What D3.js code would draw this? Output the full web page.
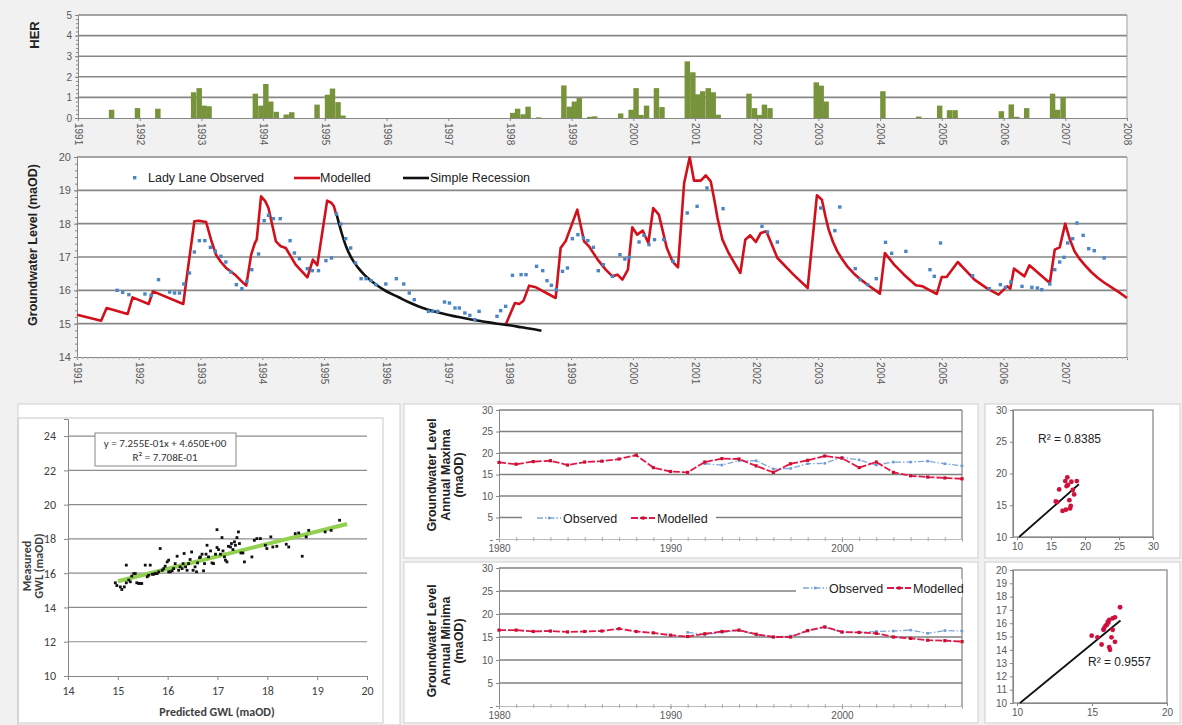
<!DOCTYPE html>
<html><head><meta charset="utf-8">
<script src="https://cdn.jsdelivr.net/npm/d3@7"></script>
<style>
body{margin:0;background:#f1f1f1;}
svg{display:block;font-family:"Liberation Sans",Arial,sans-serif;}
</style>
</head><body>
<svg id="c" width="1182" height="725"></svg>
<script>
// ---------------- DATA ----------------
const yearTicks = [1991,1992,1993,1994,1995,1996,1997,1998,1999,2000,2001,2002,2003,2004,2005,2006,2007,2008];
const herTicks = [0,1,2,3,4,5];
const herYears = [1991.50,1991.92,1992.25,1992.83,1992.92,1993.00,1993.08,1993.83,1993.92,1994.00,1994.08,1994.17,1994.33,1994.42,1994.83,1995.00,1995.08,1995.17,1995.25,
  1998.00,1998.08,1998.17,1998.25,1998.42,1998.83,1998.92,1999.00,1999.08,1999.25,1999.33,1999.75,1999.92,2000.00,2000.08,2000.17,2000.33,2000.42,
  2000.83,2000.92,2001.00,2001.08,2001.17,2001.25,2001.33,2001.83,2001.92,2002.00,2002.08,2002.17,2002.92,2003.00,2003.08,2004.00,2004.58,
  2004.92,2005.08,2005.17,2005.92,2006.08,2006.17,2006.33,2006.75,2006.83,2006.92];
const herValues = [0.40,0.48,0.45,1.25,1.45,0.60,0.57,1.18,0.60,1.65,0.80,0.30,0.17,0.28,0.65,1.13,1.43,0.77,0.12,
  0.25,0.45,0.18,0.55,0.03,1.58,0.55,0.80,0.97,0.06,0.08,0.22,0.40,1.45,0.15,0.60,1.45,0.53,
  2.75,2.22,1.15,1.30,1.45,1.25,0.16,1.18,0.48,0.15,0.65,0.48,1.73,1.57,0.80,1.30,0.07,
  0.60,0.38,0.38,0.33,0.66,0.06,0.48,1.18,0.40,1.02];

const gwlTicks = [14,15,16,17,18,19,20];
const modelYears = [1991.00,1991.39,1991.48,1991.82,1991.90,1992.16,1992.23,1992.72,1992.79,1992.90,1992.97,1993.09,1993.17,1993.25,1993.33,1993.41,1993.50,1993.57,1993.65,1993.74,
  1993.82,1993.88,1993.91,1993.98,1994.05,1994.10,1994.22,1994.30,1994.38,1994.54,1994.73,1994.82,1994.89,1995.05,1995.12,1995.16,1995.20,
  1996.50,
  1997.94,1998.09,1998.16,1998.23,1998.32,1998.43,1998.75,1998.83,1998.91,1999.10,1999.21,1999.29,1999.43,1999.56,1999.67,1999.75,1999.83,1999.92,
  1999.99,2000.07,2000.16,2000.25,2000.33,2000.42,2000.55,2000.64,2000.73,2000.83,2000.92,2000.99,2001.10,2001.18,2001.26,2001.32,2001.37,2001.45,2001.55,2001.65,2001.74,
  2001.82,2001.90,2001.99,2002.07,2002.16,2002.34,2002.60,2002.83,2002.98,2003.06,2003.12,2003.17,2003.24,2003.31,2003.39,2003.47,2003.58,2003.69,2003.85,2004.00,
  2004.08,2004.23,2004.39,2004.58,2004.69,2004.92,2005.00,2005.08,2005.26,2005.53,2005.74,2005.92,2006.06,2006.11,2006.17,2006.34,2006.42,2006.75,
  2006.83,2006.91,2007.00,2007.07,2007.15,2007.23,2007.31,2007.42,2007.53,2007.64,2007.75,2007.88,2008.00];
const modelValues = [15.27,15.09,15.47,15.29,15.79,15.59,15.97,15.59,16.57,18.07,18.09,18.05,17.52,17.07,16.85,16.68,16.55,16.45,16.30,16.14,
  17.07,17.42,17.52,18.82,18.67,18.47,17.47,17.32,17.27,16.77,16.39,16.92,16.75,18.69,18.62,18.52,18.25,
  null,
  14.97,15.62,15.59,15.69,16.14,16.09,15.77,17.27,17.47,18.42,17.47,17.32,16.92,16.62,16.42,16.47,16.32,16.62,
  17.89,17.67,17.79,17.42,18.47,18.27,17.27,16.87,16.69,19.22,19.99,19.29,19.29,19.45,19.27,18.70,18.17,17.52,17.12,16.80,16.52,
  17.52,17.65,17.45,17.72,17.77,16.97,16.47,16.07,18.85,18.72,18.20,17.82,17.45,17.17,16.93,16.72,16.50,16.32,16.10,15.90,
  17.12,16.77,16.47,16.15,16.12,15.89,16.40,16.40,16.85,16.32,16.05,15.87,16.12,16.05,16.65,16.42,16.75,16.22,
  17.22,17.29,18.00,17.55,17.17,16.95,16.77,16.55,16.37,16.22,16.09,15.93,15.77];

const obsYears = [1991.65,1991.74,1991.84,1992.10,1992.20,1992.32,1992.50,1992.58,1992.66,1992.73,1992.82,1992.90,1992.98,1993.07,1993.16,1993.24,1993.33,1993.41,1993.49,1993.58,
  1993.67,1993.75,1993.83,1993.94,1994.03,1994.10,1994.18,1994.29,1994.45,1994.52,1994.60,1994.73,1994.81,1994.91,1995.03,1995.12,1995.20,1995.27,1995.35,1995.43,
  1995.51,1995.60,1995.68,1995.76,1995.84,1996.00,1996.17,1996.29,1996.38,1996.46,1996.69,1996.76,1996.84,1996.95,1997.03,1997.12,1997.19,1997.28,1997.36,1997.44,
  1997.51,1997.80,1997.86,1997.94,1998.05,1998.19,1998.27,1998.44,1998.54,1998.61,1998.68,1998.76,1998.86,1998.94,1999.02,1999.11,1999.20,1999.27,1999.36,1999.44,
  1999.52,1999.67,1999.79,1999.87,1999.94,2000.10,2000.18,2000.26,2000.35,2000.50,2000.65,2000.88,2001.04,2001.20,2001.46,2002.09,2002.18,2002.34,
  2003.04,2003.27,2003.35,2003.60,2003.68,2003.80,2003.94,2004.09,2004.19,2004.42,2004.81,2004.88,2004.98,2005.50,2005.77,2005.95,2006.03,2006.12,2006.30,
  2006.46,2006.55,2006.62,2006.75,2006.83,2006.91,2006.98,2007.04,2007.12,2007.19,2007.29,2007.38,2007.47,2007.63];
const obsValues = [16.00,15.94,15.87,15.89,15.85,16.32,15.95,15.92,15.92,16.19,16.52,17.15,17.49,17.49,17.29,17.17,17.02,16.85,16.55,16.17,
  16.05,16.27,16.62,17.09,18.09,18.25,18.15,18.15,17.49,17.12,16.95,16.65,16.59,16.59,16.89,16.97,18.29,17.99,17.55,17.27,
  16.82,16.35,16.35,16.29,16.17,16.19,16.35,16.19,15.92,15.72,15.37,15.37,15.37,15.65,15.62,15.47,15.47,15.32,15.25,15.12,
  15.37,15.22,15.39,15.52,16.45,16.47,16.47,16.72,16.59,16.29,16.15,16.02,16.57,16.67,17.55,17.67,17.57,17.49,17.29,16.59,
  16.77,16.42,17.07,16.94,16.99,17.45,17.65,17.37,17.52,17.52,16.87,18.32,18.52,19.07,18.45,17.92,17.75,17.45,
  18.47,17.79,18.50,16.65,16.32,16.17,16.35,17.44,17.11,17.17,16.62,16.42,17.42,16.44,16.05,16.17,16.09,16.25,16.12,
  16.09,16.07,16.02,16.19,16.62,16.85,16.99,17.42,17.55,18.02,17.65,17.25,17.19,16.97];

const recessYears = [1995.20,1995.28,1995.36,1995.45,1995.55,1995.65,1995.75,1995.85,1996.00,1996.20,1996.40,1996.60,1996.80,1997.00,1997.20,1997.40,1997.60,1997.80,1998.00,1998.20,1998.40,1998.52];
const recessValues = [18.30,17.75,17.30,16.95,16.68,16.47,16.30,16.16,15.98,15.80,15.62,15.47,15.36,15.27,15.19,15.12,15.06,15.00,14.95,14.89,14.83,14.79];

// Scatter predicted vs measured
const predGWL = [14.95,14.98,15.05,15.08,15.13,15.17,15.17,15.22,15.25,15.28,15.32,15.35,15.38,15.42,15.45,15.48,
  15.55,15.59,15.62,15.65,15.69,15.72,15.75,15.79,15.82,15.85,15.89,15.92,15.95,15.99,16.02,
  16.02,16.05,16.09,16.12,16.15,16.19,16.22,16.25,16.29,16.31,16.33,16.36,16.39,16.42,16.45,16.48,16.51,16.55,16.58,16.60,16.64,
  16.66,16.69,16.72,16.74,16.77,16.79,16.82,16.86,16.89,16.92,16.96,16.99,16.99,17.02,17.06,17.09,17.11,17.14,17.16,17.19,17.22,17.26,17.28,17.31,
  17.34,17.36,17.39,17.42,17.44,17.47,17.51,17.54,17.69,17.74,17.79,17.86,17.96,17.99,
  18.07,18.11,18.19,18.38,18.43,18.56,18.63,18.70,18.78,18.83,19.16,19.28,19.45];
const measGWL = [15.44,15.28,15.20,15.05,15.20,16.47,15.44,15.60,15.50,15.83,15.98,15.98,15.44,15.40,15.40,15.40,
  16.47,15.79,15.88,16.47,15.94,15.94,15.98,15.98,16.08,17.44,16.17,16.27,16.41,16.66,16.76,
  16.08,16.08,16.14,16.27,16.56,16.99,16.17,16.37,16.27,16.56,17.15,16.37,16.17,16.56,16.80,17.24,16.17,16.37,16.08,16.60,16.91,
  16.95,17.11,16.14,16.56,17.11,17.63,16.95,17.30,16.60,16.56,17.11,18.54,17.50,17.38,17.11,18.08,17.30,16.95,16.76,16.66,17.57,17.53,17.73,17.38,
  17.83,17.63,18.08,18.41,17.73,17.18,17.18,16.66,16.95,17.92,18.02,18.02,17.63,17.44,
  18.12,17.53,17.57,17.69,17.53,18.31,18.35,16.99,18.12,18.50,18.41,18.50,19.09];
const predTicks = [14,15,16,17,18,19,20];
const measTicks = [10,12,14,16,18,20,22,24];
const trendSlope = 0.7255, trendIntercept = 4.650, trendFrom = 15.0, trendTo = 19.6;

// Annual maxima / minima
const annYears = [1980,1981,1982,1983,1984,1985,1986,1987,1988,1989,1990,1991,1992,1993,1994,1995,1996,1997,1998,1999,2000,2001,2002,2003,2004,2005,2006,2007];
const annTicks = [0,5,10,15,20,25,30];
const annYearLabels = [1980,1990,2000];
const maxModelled = [17.8,17.4,18.0,18.2,17.2,17.9,18.1,18.6,19.5,16.6,15.7,15.5,17.9,18.7,18.6,17.0,15.5,17.5,18.3,19.3,18.8,16.6,17.9,15.5,14.7,14.4,14.2,14.0];
const maxObserved = [null,null,null,null,null,null,null,null,null,null,null,null,17.5,17.2,18.2,18.2,16.3,16.4,17.5,17.6,19.0,18.4,17.2,17.9,17.9,18.1,17.5,17.0];
const minModelled = [16.5,16.5,16.2,16.3,16.1,16.2,16.3,16.8,16.2,15.9,15.4,15.1,15.7,16.2,16.5,15.6,15.0,15.0,16.4,17.2,16.1,16.0,15.8,15.0,14.7,14.3,14.2,14.0];
const minObserved = [null,null,null,null,null,null,null,null,null,null,null,16.0,15.5,16.0,16.4,15.5,15.0,15.2,16.3,17.1,16.0,16.0,16.2,16.3,16.5,15.8,16.4,16.3];

// Observed vs modelled scatter (right)
const scMaxX = [16.2,17.4,17.1,18.0,18.8,17.3,17.5,18.2,18.4,17.7,17.9,17.2,16.7,17.8,15.7,15.9];
const scMaxY = [17.5,19.4,18.8,18.7,18.8,18.0,18.2,17.4,16.7,15.8,14.9,14.3,14.1,14.5,15.6,15.5];
const scMaxLine = [[10.3,10.0],[19.1,18.3]];
const scMaxTicks = [10,15,20,25,30];
const scMinX = [14.98,15.36,16.87,15.76,15.64,15.98,16.09,16.15,16.38,16.53,16.38,16.30,16.15,16.20,16.53,15.80,15.90,16.05];
const scMinY = [15.06,14.94,17.20,15.50,14.40,15.87,16.04,16.24,16.37,16.44,15.50,14.94,14.20,14.00,14.60,15.60,15.80,16.10];
const scMinLine = [[10.2,10.0],[16.9,16.2]];
const scMinXTicks = [10,15,20];
const scMinYTicks = [10,11,12,13,14,15,16,17,18,19,20];

// ---------------- DRAWING ----------------
const svg = d3.select("#c");
const GRID = "#878787", AX = "#868686", TXT = "#595959";

function styleAxis(g, size) {
  g.select(".domain").attr("stroke", AX);
  g.selectAll(".tick line").attr("stroke", AX);
  g.selectAll(".tick text").attr("fill", TXT).attr("font-size", size || 10);
}

// panels
svg.append("rect").attr("x",18).attr("y",404).attr("width",382).attr("height",321).attr("fill","#fff").attr("stroke","#cfcfcf");
svg.append("rect").attr("x",404).attr("y",404).attr("width",574).attr("height",154).attr("fill","#fff").attr("stroke","#cfcfcf");
svg.append("rect").attr("x",404).attr("y",562).attr("width",574).attr("height",161).attr("fill","#fff").attr("stroke","#cfcfcf");
svg.append("rect").attr("x",985).attr("y",404).attr("width",195).attr("height",154).attr("fill","#fff").attr("stroke","#cfcfcf");
svg.append("rect").attr("x",985).attr("y",562).attr("width",195).attr("height",161).attr("fill","#fff").attr("stroke","#cfcfcf");

// ===== HER =====
const xH = d3.scaleLinear().domain([1991,2008]).range([78,1127]);
const yH = d3.scaleLinear().domain([0,5]).range([118,15]);
const gH = svg.append("g");
gH.append("rect").attr("x",xH(1991)).attr("y",yH(5)).attr("width",xH(2008)-xH(1991)).attr("height",yH(0)-yH(5)).attr("fill","#fff");
gH.selectAll("line.grid").data(herTicks.filter(d=>d>0)).join("line")
  .attr("x1",xH(1991)).attr("x2",xH(2008)).attr("y1",d=>yH(d)).attr("y2",d=>yH(d))
  .attr("stroke",GRID).attr("stroke-width",1.6);
gH.append("line").attr("x1",xH(2008)).attr("x2",xH(2008)).attr("y1",yH(5)).attr("y2",yH(0)).attr("stroke","#a0a0a0");
gH.selectAll("rect.bar").data(herYears.map((t,i)=>({t,v:herValues[i]}))).join("rect")
  .attr("x",d=>xH(d.t)).attr("width",d=>xH(d.t+1/12)-xH(d.t)+0.3)
  .attr("y",d=>yH(d.v)).attr("height",d=>yH(0)-yH(d.v)).attr("fill","#77933c");
const hy = gH.append("g").attr("transform",`translate(${xH(1991)},0)`).call(d3.axisLeft(yH).tickValues(herTicks).tickSize(3).tickFormat(d3.format("d")));
styleAxis(hy);
gH.append("g").attr("transform",`translate(${xH(1991)},0)`).call(d3.axisLeft(yH).tickValues(d3.range(0,5.01,0.2)).tickSize(2).tickFormat(""))
  .call(g=>{g.select(".domain").remove(); g.selectAll("line").attr("stroke",AX);});
const hx = gH.append("g").attr("transform",`translate(0,${yH(0)})`).call(d3.axisBottom(xH).tickValues(yearTicks).tickSize(3).tickFormat(d=>String(d)));
styleAxis(hx);
hx.selectAll(".tick text").attr("transform","rotate(90)").attr("text-anchor","start").attr("x",5).attr("y",0).attr("dy","0.35em");
gH.append("text").attr("transform",`translate(39,35) rotate(-90)`).attr("text-anchor","middle")
  .attr("font-weight","bold").attr("font-size",13).attr("fill","#222").text("HER");

// ===== MAIN GWL =====
const xM = d3.scaleLinear().domain([1991,2008]).range([77,1127]);
const yM = d3.scaleLinear().domain([14,20]).range([357,157]);
const gM = svg.append("g");
gM.append("rect").attr("x",xM(1991)).attr("y",yM(20)).attr("width",xM(2008)-xM(1991)).attr("height",yM(14)-yM(20)).attr("fill","#fff");
gM.selectAll("line.grid").data(gwlTicks.filter(d=>d>14)).join("line")
  .attr("x1",xM(1991)).attr("x2",xM(2008)).attr("y1",d=>yM(d)).attr("y2",d=>yM(d))
  .attr("stroke",GRID).attr("stroke-width",1.6);
gM.append("line").attr("x1",xM(2008)).attr("x2",xM(2008)).attr("y1",yM(20)).attr("y2",yM(14)).attr("stroke","#a0a0a0");
const my = gM.append("g").attr("transform",`translate(${xM(1991)},0)`).call(d3.axisLeft(yM).tickValues(gwlTicks).tickSize(3).tickFormat(d3.format("d")));
styleAxis(my, 11);
gM.append("g").attr("transform",`translate(${xM(1991)},0)`).call(d3.axisLeft(yM).tickValues(d3.range(14,20.01,0.2)).tickSize(2).tickFormat(""))
  .call(g=>{g.select(".domain").remove(); g.selectAll("line").attr("stroke",AX);});
const mx = gM.append("g").attr("transform",`translate(0,${yM(14)})`).call(d3.axisBottom(xM).tickValues(yearTicks.slice(0,17)).tickSize(3).tickFormat(d=>String(d)));
styleAxis(mx);
mx.selectAll(".tick text").attr("transform","rotate(90)").attr("text-anchor","start").attr("x",5).attr("y",0).attr("dy","0.35em");
gM.append("g").attr("transform",`translate(0,${yM(14)})`).call(d3.axisBottom(xM).tickValues(d3.range(1991,2008.01,1/12)).tickSize(2).tickFormat(""))
  .call(g=>{g.select(".domain").remove(); g.selectAll("line").attr("stroke","#b0b0b0");});

const modelPts = modelYears.map((t,i)=>({t,v:modelValues[i]}));
gM.append("path").datum(modelPts)
  .attr("d", d3.line().defined(d=>d.v!=null).x(d=>xM(d.t)).y(d=>yM(d.v)))
  .attr("fill","none").attr("stroke","#d2101c").attr("stroke-width",2.6).attr("stroke-linejoin","round");
gM.append("path").datum(recessYears.map((t,i)=>({t,v:recessValues[i]})))
  .attr("d", d3.line().curve(d3.curveMonotoneX).x(d=>xM(d.t)).y(d=>yM(d.v)))
  .attr("fill","none").attr("stroke","#111").attr("stroke-width",2.6);
gM.selectAll("rect.obs").data(obsYears.map((t,i)=>({t,v:obsValues[i]}))).join("rect")
  .attr("x",d=>xM(d.t)-1.7).attr("y",d=>yM(d.v)-1.7).attr("width",3.4).attr("height",3.4)
  .attr("fill","#4a86c5");
// legend
const lg = gM.append("g").attr("font-size",12.5).attr("fill","#222");
lg.append("rect").attr("x",133).attr("y",176).attr("width",3.4).attr("height",3.4).attr("fill","#4a86c5");
lg.append("text").attr("x",148).attr("y",182).text("Lady Lane Observed");
lg.append("line").attr("x1",294).attr("x2",320).attr("y1",178).attr("y2",178).attr("stroke","#d2101c").attr("stroke-width",2.6);
lg.append("text").attr("x",320).attr("y",182).text("Modelled");
lg.append("line").attr("x1",403).attr("x2",429).attr("y1",178).attr("y2",178).attr("stroke","#111").attr("stroke-width",2.6);
lg.append("text").attr("x",430).attr("y",182).text("Simple Recession");
gM.append("text").attr("transform",`translate(37,245) rotate(-90)`).attr("text-anchor","middle")
  .attr("font-weight","bold").attr("font-size",12.5).attr("fill","#222").text("Groundwater Level (maOD)");

// ===== SCATTER predicted vs measured =====
const CAL = "Carlito, Lato, 'Open Sans', sans-serif";
const xS = d3.scaleLinear().domain([14,20]).range([68,367]);
const yS = d3.scaleLinear().domain([10,25]).range([676,419]);
const gS = svg.append("g").attr("font-family",CAL);
gS.append("rect").attr("x",18).attr("y",418).attr("width",365).attr("height",305).attr("fill","none").attr("stroke","#c8c8c8");
gS.selectAll("line.grid").data(measTicks.filter(d=>d>10)).join("line")
  .attr("x1",xS(14)).attr("x2",xS(20)).attr("y1",d=>yS(d)).attr("y2",d=>yS(d))
  .attr("stroke","#8c8c8c").attr("stroke-width",1.2);
const sy = gS.append("g").attr("transform",`translate(${xS(14)},0)`).call(d3.axisLeft(yS).tickValues(measTicks).tickSize(4).tickPadding(8).tickFormat(d3.format("d")));
styleAxis(sy, 12); sy.selectAll("text").attr("font-family",CAL).attr("fill","#404040");
const sx = gS.append("g").attr("transform",`translate(0,${yS(10)})`).call(d3.axisBottom(xS).tickValues(predTicks).tickSize(4).tickPadding(6).tickFormat(d3.format("d")));
styleAxis(sx, 12); sx.selectAll("text").attr("font-family",CAL).attr("fill","#404040");
gS.append("line").attr("x1",xS(trendFrom)).attr("x2",xS(trendTo))
  .attr("y1",yS(trendSlope*trendFrom+trendIntercept)).attr("y2",yS(trendSlope*trendTo+trendIntercept))
  .attr("stroke","#92d050").attr("stroke-width",4);
gS.selectAll("rect.pt").data(predGWL.map((p,i)=>({p,m:measGWL[i]}))).join("rect")
  .attr("x",d=>xS(d.p)-1.4).attr("y",d=>yS(d.m)-1.4).attr("width",2.8).attr("height",2.8).attr("fill","#111");
gS.append("rect").attr("x",95).attr("y",433).attr("width",141).attr("height",33).attr("fill","#fff").attr("stroke","#888");
gS.append("text").attr("x",165).attr("y",447).attr("text-anchor","middle").attr("font-size",11).attr("fill","#333").text("y = 7.255E-01x + 4.650E+00");
gS.append("text").attr("x",165).attr("y",461).attr("text-anchor","middle").attr("font-size",11).attr("fill","#333").text("R² = 7.708E-01");
gS.append("text").attr("x",217).attr("y",716).attr("text-anchor","middle").attr("font-weight","bold").attr("font-size",12).attr("fill","#404040").text("Predicted GWL (maOD)");
const ylab = gS.append("text").attr("transform","translate(32,566) rotate(-90)").attr("text-anchor","middle").attr("font-weight","bold").attr("font-size",12).attr("fill","#404040");
ylab.append("tspan").attr("x",0).attr("dy",-1).text("Measured");
ylab.append("tspan").attr("x",0).attr("dy",12).text("GWL (maOD)");

// ===== Annual maxima / minima =====
function annualChart(y0, y30, obs, mod, labelLines, legendPos, labelY) {
  const x = d3.scaleLinear().domain([1980,2007]).range([499,962]);
  const y = d3.scaleLinear().domain([0,30]).range([y0,y30]);
  const g = svg.append("g");
  g.selectAll("line.grid").data(annTicks.filter(d=>d>0)).join("line")
    .attr("x1",x(1980)).attr("x2",x(2007)).attr("y1",d=>y(d)).attr("y2",d=>y(d))
    .attr("stroke","#808080").attr("stroke-width",1.5);
  g.append("line").attr("x1",x(2007)).attr("x2",x(2007)).attr("y1",y(30)).attr("y2",y(0)).attr("stroke","#808080").attr("stroke-width",1.2);
  const ay = g.append("g").attr("transform",`translate(${x(1980)},0)`).call(d3.axisLeft(y).tickValues(annTicks).tickSize(3).tickFormat(d=>d===0?"-":String(d)));
  styleAxis(ay, 10);
  const ax = g.append("g").attr("transform",`translate(0,${y(0)})`).call(d3.axisBottom(x).tickValues(annYearLabels).tickSize(3).tickPadding(3).tickFormat(d=>String(d)));
  styleAxis(ax, 10);
  ax.select(".domain").attr("stroke","#bbb");
  g.append("g").attr("transform",`translate(0,${y(0)-2})`).call(d3.axisBottom(x).tickValues(annYears).tickSize(4).tickFormat(""))
    .call(s=>{s.select(".domain").remove(); s.selectAll("line").attr("stroke","#aaa");});
  const L = legendPos;
  g.append("rect").attr("x",L.x0).attr("y",L.y-9).attr("width",L.x1-L.x0).attr("height",18).attr("fill","#fff");
  const obsPts = annYears.map((t,i)=>({t,v:obs[i]}));
  const modPts = annYears.map((t,i)=>({t,v:mod[i]}));
  const line = d3.line().defined(d=>d.v!=null).x(d=>x(d.t)).y(d=>y(d.v));
  g.append("path").datum(obsPts).attr("d",line).attr("fill","none").attr("stroke","#7fa7d6").attr("stroke-width",1.3).attr("stroke-dasharray","6,2,1.5,2");
  g.selectAll("rect.om").data(obsPts.filter(d=>d.v!=null)).join("rect")
    .attr("x",d=>x(d.t)-1.3).attr("y",d=>y(d.v)-1.3).attr("width",2.6).attr("height",2.6).attr("fill","#6f9bd0");
  g.append("path").datum(modPts).attr("d",line).attr("fill","none").attr("stroke","#e0184a").attr("stroke-width",1.8).attr("stroke-dasharray","7,2");
  g.selectAll("rect.mm").data(modPts).join("rect")
    .attr("x",d=>x(d.t)-1.6).attr("y",d=>y(d.v)-1.6).attr("width",3.2).attr("height",3.2).attr("fill","#c8102e");
  const lg = g.append("g").attr("font-size",12.5).attr("fill","#222");
  lg.append("line").attr("x1",L.ox).attr("x2",L.ox+24).attr("y1",L.y).attr("y2",L.y).attr("stroke","#7fa7d6").attr("stroke-width",1.3).attr("stroke-dasharray","6,2,1.5,2");
  lg.append("rect").attr("x",L.ox+11).attr("y",L.y-1.3).attr("width",2.6).attr("height",2.6).attr("fill","#6f9bd0");
  lg.append("text").attr("x",L.ox+26).attr("y",L.y+4.5).text("Observed");
  lg.append("line").attr("x1",L.mx).attr("x2",L.mx+24).attr("y1",L.y).attr("y2",L.y).attr("stroke","#e0184a").attr("stroke-width",1.8).attr("stroke-dasharray","7,2");
  lg.append("rect").attr("x",L.mx+10.5).attr("y",L.y-1.6).attr("width",3.2).attr("height",3.2).attr("fill","#c8102e");
  lg.append("text").attr("x",L.mx+26).attr("y",L.y+4.5).text("Modelled");
  const t = g.append("text").attr("transform",`translate(446,${labelY}) rotate(-90)`).attr("text-anchor","middle")
    .attr("font-weight","bold").attr("font-size",12.5).attr("fill","#222");
  labelLines.forEach((s,i)=>t.append("tspan").attr("x",0).attr("dy",i===0?-10:13.5).text(s));
}
annualChart(539, 410, maxObserved, maxModelled, ["Groundwater Level","Annual Maxima","(maOD)"], {x0:522,x1:716,y:518,ox:537,mx:631}, 475);
annualChart(706, 568, minObserved, minModelled, ["Groundwater Level","Annual Minima","(maOD)"], {x0:796,x1:962,y:588,ox:803,mx:887}, 641);

// ===== right scatters =====
function sideScatter(xDom, xRange, yDom, yRange, xTicks, yTicks, xs, ys, seg, rText, rPos) {
  const x = d3.scaleLinear().domain(xDom).range(xRange);
  const y = d3.scaleLinear().domain(yDom).range(yRange);
  const g = svg.append("g");
  g.append("rect").attr("x",x(xDom[0])-4).attr("y",y(yDom[1])).attr("width",x(xDom[1])-x(xDom[0])+4).attr("height",y(yDom[0])-y(yDom[1]))
    .attr("fill","none").attr("stroke","#808080").attr("stroke-width",1.2);
  const ay = g.append("g").attr("transform",`translate(${x(xDom[0])-4},0)`).call(d3.axisLeft(y).tickValues(yTicks).tickSize(3).tickFormat(d3.format("d")));
  styleAxis(ay, 10);
  const ax = g.append("g").attr("transform",`translate(0,${y(yDom[0])})`).call(d3.axisBottom(x).tickValues(xTicks).tickSize(3).tickFormat(d3.format("d")));
  styleAxis(ax, 10);
  g.append("line").attr("x1",x(seg[0][0])).attr("y1",y(seg[0][1])).attr("x2",x(seg[1][0])).attr("y2",y(seg[1][1]))
    .attr("stroke","#111").attr("stroke-width",1.8);
  g.selectAll("circle").data(xs.map((v,i)=>({a:v,b:ys[i]}))).join("circle")
    .attr("cx",d=>x(d.a)).attr("cy",d=>y(d.b)).attr("r",2.4).attr("fill","#d0103c");
  g.append("text").attr("x",rPos[0]).attr("y",rPos[1]).attr("font-size",12).attr("fill","#222").text(rText);
}
sideScatter([10,30],[1017,1153],[10,30],[537,410],scMaxTicks,scMaxTicks,scMaxX,scMaxY,scMaxLine,"R² = 0.8385",[1038,443]);
sideScatter([10,20],[1017,1167],[10,20],[703,570],scMinXTicks,scMinYTicks,scMinX,scMinY,scMinLine,"R² = 0.9557",[1088,666]);
</script>
</body></html>
